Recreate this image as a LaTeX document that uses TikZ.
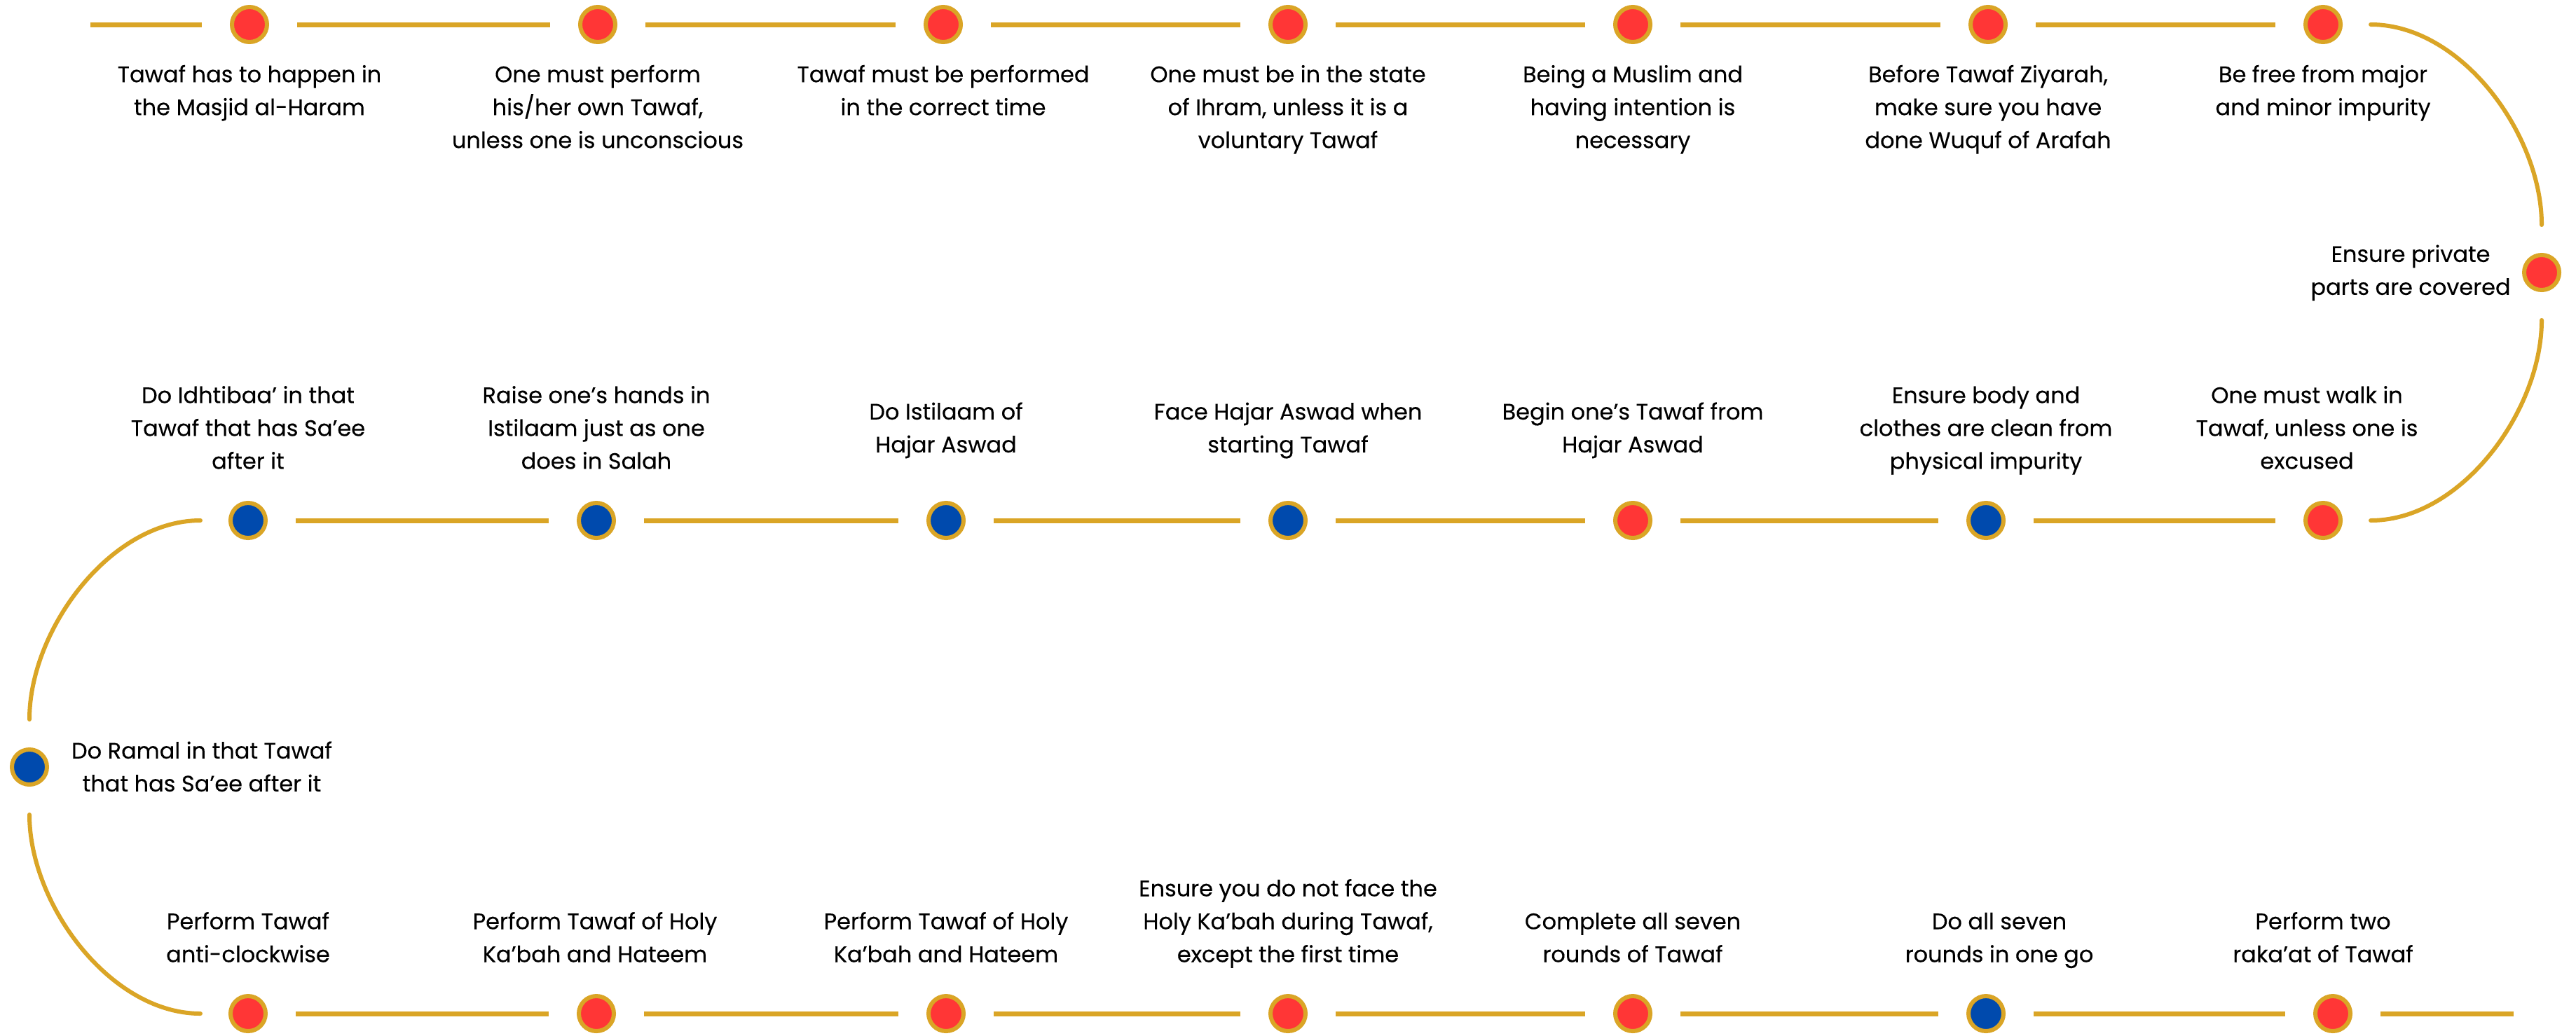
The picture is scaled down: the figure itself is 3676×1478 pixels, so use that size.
\documentclass[tikz,border=0pt]{standalone}
\usepackage{fontspec}
\setmainfont{Poppins}[FakeBold=0.25]
\definecolor{gold}{RGB}{218,165,38}
\definecolor{dotred}{RGB}{255,54,54}
\definecolor{dotblue}{RGB}{0,74,173}
\begin{document}
\begin{tikzpicture}[x=0.5pt,y=-0.5pt,
  dotbase/.style={circle,draw=gold,line width=3pt,minimum size=25pt,inner sep=0pt},
  rdot/.style={dotbase,fill=dotred},
  bdot/.style={dotbase,fill=dotblue},
  conn/.style={draw=gold,line width=3.5pt,shorten >=20pt,shorten <=20pt},
  arcconn/.style={draw=gold,line width=3pt,line cap=round,shorten >=20pt,shorten <=20pt},
  lbl/.style={align=center,inner sep=0pt,font=\fontsize{16}{23.5}\selectfont},
  toplbl/.style={lbl,anchor=north},
  midlbl/.style={lbl,anchor=center},
  botlbl/.style={lbl,anchor=south}]
\useasboundingbox (0,0) rectangle (3676,1478);
% row 1
\node[rdot] (a1) at (356,35) {};
\node[rdot] (a2) at (853,35) {};
\node[rdot] (a3) at (1346,35) {};
\node[rdot] (a4) at (1838,35) {};
\node[rdot] (a5) at (2330,35) {};
\node[rdot] (a6) at (2837,35) {};
\node[rdot] (a7) at (3315,35) {};
% right
\node[rdot] (R) at (3627,389) {};
% row 2
\node[bdot] (b1) at (354,743) {};
\node[bdot] (b2) at (851,743) {};
\node[bdot] (b3) at (1350,743) {};
\node[bdot] (b4) at (1838,743) {};
\node[rdot] (b5) at (2330,743) {};
\node[bdot] (b6) at (2834,743) {};
\node[rdot] (b7) at (3315,743) {};
% left
\node[bdot] (L) at (42,1095) {};
% row 3
\node[rdot] (c1) at (354,1447) {};
\node[rdot] (c2) at (851,1447) {};
\node[rdot] (c3) at (1350,1447) {};
\node[rdot] (c4) at (1838,1447) {};
\node[rdot] (c5) at (2330,1447) {};
\node[bdot] (c6) at (2834,1447) {};
\node[rdot] (c7) at (3329,1447) {};
\coordinate (s) at (129,35);
\coordinate (e) at (3587,1447);
% connectors
\draw[conn,shorten <=0pt] (s) -- (a1);
\draw[conn] (a1) -- (a2);
\draw[conn] (a2) -- (a3);
\draw[conn] (a3) -- (a4);
\draw[conn] (a4) -- (a5);
\draw[conn] (a5) -- (a6);
\draw[conn] (a6) -- (a7);
\draw[arcconn] (a7) to[out=0,in=90] (R);
\draw[arcconn] (R) to[out=-90,in=0] (b7);
\draw[conn] (b7) -- (b6);
\draw[conn] (b6) -- (b5);
\draw[conn] (b5) -- (b4);
\draw[conn] (b4) -- (b3);
\draw[conn] (b3) -- (b2);
\draw[conn] (b2) -- (b1);
\draw[arcconn] (b1) to[out=180,in=90] (L);
\draw[arcconn] (L) to[out=-90,in=180] (c1);
\draw[conn] (c1) -- (c2);
\draw[conn] (c2) -- (c3);
\draw[conn] (c3) -- (c4);
\draw[conn] (c4) -- (c5);
\draw[conn] (c5) -- (c6);
\draw[conn] (c6) -- (c7);
\draw[conn,shorten >=0pt] (c7) -- (e);
% row 1 labels
\node[toplbl] (ta1) at (356,84) {\strut Tawaf has to happen in\\the Masjid al-Haram\strut};
\node[toplbl] (ta2) at (853,84) {\strut One must perform\\his/her own Tawaf,\\unless one is unconscious\strut};
\node[toplbl] (ta3) at (1346,84) {\strut Tawaf must be performed\\in the correct time\strut};
\node[toplbl] (ta4) at (1838,84) {\strut One must be in the state\\of Ihram, unless it is a\\voluntary Tawaf\strut};
\node[toplbl] (ta5) at (2330,84) {\strut Being a Muslim and\\having intention is\\necessary\strut};
\node[toplbl] (ta6) at (2837,84) {\strut Before Tawaf Ziyarah,\\make sure you have\\done Wuquf of Arafah\strut};
\node[toplbl] (ta7) at (3315,84) {\strut Be free from major\\and minor impurity\strut};
% side labels
\node[midlbl] (tR) at (3440,388) {\strut Ensure private\\parts are covered\strut};
\node[midlbl] (tL) at (288,1097) {\strut Do Ramal in that Tawaf\\that has Sa’ee after it\strut};
% row 2 labels
\node[midlbl] (tb1) at (354,613) {\strut Do Idhtibaa’ in that\\Tawaf that has Sa’ee\\after it\strut};
\node[midlbl] (tb2) at (851,613) {\strut Raise one's hands in\\Istilaam just as one\\does in Salah\strut};
\node[midlbl] (tb3) at (1350,613) {\strut Do Istilaam of\\Hajar Aswad\strut};
\node[midlbl] (tb4) at (1838,613) {\strut Face Hajar Aswad when\\starting Tawaf\strut};
\node[midlbl] (tb5) at (2330,613) {\strut Begin one's Tawaf from\\Hajar Aswad\strut};
\node[midlbl] (tb6) at (2834,613) {\strut Ensure body and\\clothes are clean from\\physical impurity\strut};
\node[midlbl] (tb7) at (3292,613) {\strut One must walk in\\Tawaf, unless one is\\excused\strut};
% row 3 labels
\node[botlbl] (tc1) at (354,1388) {\strut Perform Tawaf\\anti-clockwise\strut};
\node[botlbl] (tc2) at (849,1388) {\strut Perform Tawaf of Holy\\Ka’bah and Hateem\strut};
\node[botlbl] (tc3) at (1350,1388) {\strut Perform Tawaf of Holy\\Ka’bah and Hateem\strut};
\node[botlbl] (tc4) at (1838,1388) {\strut Ensure you do not face the\\Holy Ka’bah during Tawaf,\\except the first time\strut};
\node[botlbl] (tc5) at (2330,1388) {\strut Complete all seven\\rounds of Tawaf\strut};
\node[botlbl] (tc6) at (2853,1388) {\strut Do all seven\\rounds in one go\strut};
\node[botlbl] (tc7) at (3315,1388) {\strut Perform two\\raka’at of Tawaf\strut};
\end{tikzpicture}
\end{document}
